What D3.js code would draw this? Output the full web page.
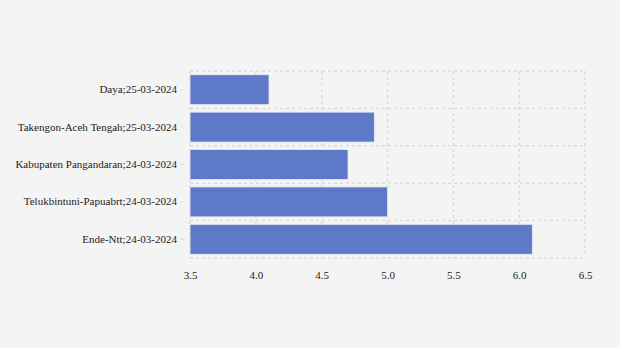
<!DOCTYPE html>
<html>
<head>
<meta charset="utf-8">
<script src="https://cdn.jsdelivr.net/npm/d3@7"></script>
<style>
  body { margin: 0; background: #f4f4f4; }
  svg { display: block; }
  .axis text { font-family: "Liberation Serif", "Times New Roman", Times, serif; font-size: 11px; fill: #222; }
</style>
</head>
<body>
<svg id="chart" width="620" height="348"></svg>
<script>
const categories = [
    "Daya;25-03-2024",
    "Takengon-Aceh Tengah;25-03-2024",
    "Kabupaten Pangandaran;24-03-2024",
    "Telukbintuni-Papuabrt;24-03-2024",
    "Ende-Ntt;24-03-2024"
]
const values = [4.1, 4.9, 4.7, 5.0, 6.1]
const xTicks = [3.5, 4.0, 4.5, 5.0, 5.5, 6.0, 6.5]

const svg = d3.select("#chart")
const margin = {top: 71, right: 35, bottom: 90, left: 190}
const width = svg.attr("width") - margin.left - margin.right
const height = svg.attr("height") - margin.top - margin.bottom

svg.append("rect").attr("width", 620).attr("height", 348).attr("fill", "#f4f4f4")

const g = svg.append("g").attr("transform", "translate(" + margin.left + "," + margin.top + ")")

const x = d3.scaleLinear().domain([3.5, 6.5]).range([0, width])
const y = d3.scaleBand().domain(categories).range([0, height]).paddingInner(0.2).paddingOuter(0.1)

const gridStyle = sel => sel.attr("stroke", "#dcdcdc").attr("stroke-width", 1.5).attr("stroke-dasharray", "3,3")

// vertical grid
g.selectAll(".vgrid")
    .data(xTicks)
    .enter().append("line")
    .attr("class", "vgrid")
    .attr("x1", d => x(d)).attr("x2", d => x(d))
    .attr("y1", 0).attr("y2", height)
    .call(gridStyle)

// horizontal grid at band edges
const edges = categories.map(c => y(c) - y.step() * y.paddingInner() / 2)
edges.push(height)
edges[0] = 0
g.selectAll(".hgrid")
    .data(edges)
    .enter().append("line")
    .attr("class", "hgrid")
    .attr("x1", 0).attr("x2", width)
    .attr("y1", d => d).attr("y2", d => d)
    .call(gridStyle)

g.selectAll(".bar")
    .data(values)
    .enter().append("rect")
    .attr("class", "bar")
    .attr("x", x(3.5))
    .attr("y", (d, i) => y(categories[i]))
    .attr("width", d => x(d) - x(3.5))
    .attr("height", y.bandwidth())
    .attr("fill", "#5e79c8")
    .attr("stroke", "#e8ebf5")
    .attr("stroke-width", 0.8)

const yAxis = g.append("g")
    .attr("class", "axis")
    .attr("transform", "translate(-4,0)")
    .call(d3.axisLeft(y).tickSize(6).tickPadding(3))
yAxis.attr("font-family", null).attr("font-size", null)
yAxis.select(".domain").remove()
yAxis.selectAll("line").attr("stroke", "#e2e2e2")

const xAxis = g.append("g")
    .attr("class", "axis")
    .attr("transform", "translate(0," + height + ")")
    .call(d3.axisBottom(x).tickValues(xTicks).tickFormat(d3.format(".1f")).tickSize(0).tickPadding(13))
xAxis.attr("font-family", null).attr("font-size", null)
xAxis.select(".domain").remove()
</script>
</body>
</html>
